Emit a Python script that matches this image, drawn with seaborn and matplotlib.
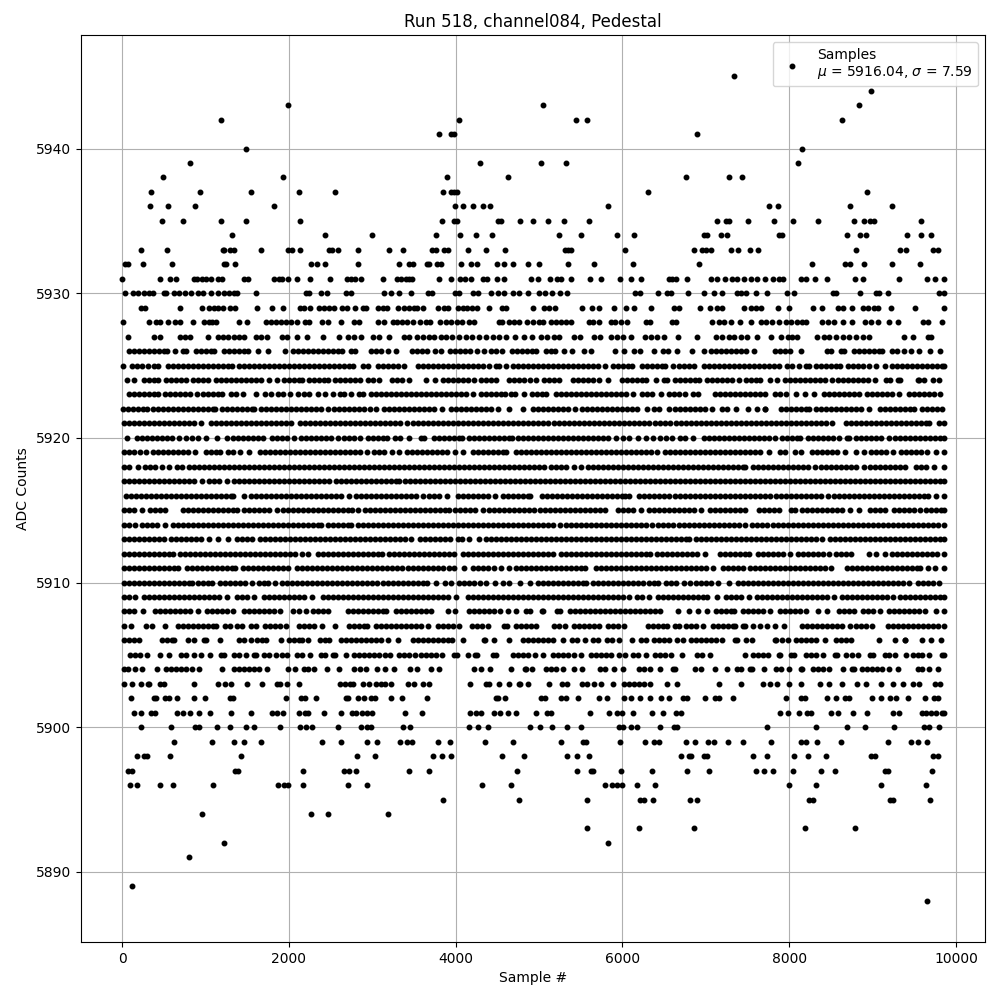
import pandas as pd
import seaborn as sns
import matplotlib
matplotlib.use("Agg")
import matplotlib.pyplot as plt

# Sample numbers per ADC level.
# The dense rows can't be resolved dot by dot, so those positions are estimates
# that follow the visible runs and gaps (far fewer points than the real samples).
s5945 = [7340]
s5944 = [8984]
s5943 = [1988, 5048, 8840]
s5942 = [1184, 4040, 5448, 5576, 8636]
s5941 = [3800, 3940, 3980, 6896]
s5940 = [1484, 8156]
s5939 = [812, 4292, 5028, 5324, 8108]
s5938 = [488, 1928, 3896, 4628, 6764, 7280, 7436]
s5937 = [344, 932, 1544, 2120, 2552, 3848, 3940, 3980, 4012, 6308, 8936]
s5936 = [332, 548, 872, 1820, 3992, 4092, 4212, 4328, 4412, 5828, 7760, 7868, 8732, 9236]
s5935 = [476, 728, 1184, 1484, 2132, 3836, 3980, 4020, 4508, 4540, 4772, 4928, 5104, 5300, 5600, 7136, 7240, 7280,
         7508, 7820, 8048, 8348, 8780, 8900, 8968, 9020, 9584]
s5934 = [1316, 2432, 2996, 3764, 4052, 4244, 4436, 5240, 5504, 5936, 6140, 6980, 7012, 7184, 7252, 7880, 7920, 8696,
         8852, 8924, 9416, 9584, 9704]
s5933 = [224, 536, 1212, 1228, 1292, 1340, 1664, 1992, 2040, 2132, 2480, 2520, 2588, 2828, 3204, 3368, 3720, 3760,
         3860, 3912, 4148, 4364, 4592, 5308, 5348, 5388, 6032, 6860, 6960, 7000, 7068, 7300, 7388, 7532, 7628, 8804,
         9332, 9400, 9720, 9788]
s5932 = [40, 68, 248, 596, 1228, 1252, 1352, 2260, 2340, 2428, 2828, 3320, 3440, 3484, 3652, 3680, 3780, 3820, 4060,
         4188, 4252, 4500, 4580, 4688, 4872, 5000, 5348, 5660, 6128, 6920, 8276, 8668, 8732, 8900, 9236, 9572]
s5931 = [0, 452, 572, 644, 860, 900, 960, 1012, 1068, 1148, 1200, 1460, 1508, 1820, 1880, 1920, 1988, 2096, 2252, 2488,
         2692, 2740, 2788, 2864, 3128, 3300, 3340, 3400, 3440, 3472, 3800, 3944, 4052, 4108, 4188, 4332, 4380, 4500,
         4580, 4908, 4988, 5130, 5212, 5260, 5384, 5612, 5744, 5972, 6104, 6224, 6560, 6600, 6640, 6776, 7060, 7140,
         7228, 7320, 7380, 7460, 7540, 7620, 7708, 7808, 7880, 7928, 8140, 8200, 8312, 8452, 8792, 8888, 9320, 9656,
         9752, 9856]
s5930 = [32, 132, 188, 260, 320, 372, 500, 532, 628, 680, 756, 824, 908, 968, 1068, 1148, 1228, 1280, 1340, 1380, 1604,
         2200, 2240, 2388, 2452, 2680, 2740, 3140, 3228, 3320, 3468, 3672, 3720, 3988, 4040, 4212, 4268, 4428, 4508,
         4580, 4692, 4756, 4872, 5000, 5070, 5156, 5252, 5332, 6152, 6212, 6428, 6540, 6588, 6788, 6980, 7100, 7200,
         7380, 7420, 7480, 7604, 7740, 7980, 8060, 8520, 8560, 8852, 9040, 9080, 9180, 9800, 9856]
s5929 = [228, 280, 692, 960, 1040, 1100, 1148, 1212, 1300, 1360, 1616, 1796, 1932, 2128, 2180, 2252, 2360, 2420, 2480,
         2540, 2640, 2692, 2796, 2888, 2928, 3068, 3128, 3180, 3312, 3380, 3440, 3500, 3540, 3604, 3788, 3860, 3908,
         4028, 4092, 4140, 4200, 4260, 4400, 4552, 4600, 4924, 5060, 5120, 5188, 5516, 5640, 5720, 5900, 6044, 6140,
         6344, 6620, 6680, 6932, 7052, 7132, 7200, 7460, 7540, 7600, 7660, 7868, 8000, 8284, 8392, 8580, 8640, 8756,
         8880, 8940, 9020, 9068, 9224, 9512, 9856]
s5928 = [8, 320, 412, 460, 552, 640, 700, 852, 980, 1040, 1080, 1132, 1404, 1496, 1720, 1780, 1840, 1900, 1960, 2020,
         2100, 2188, 2244, 2400, 2468, 2624, 2780, 2844, 3072, 3140, 3252, 3300, 3360, 3420, 3484, 3572, 3640, 3692,
         3812, 3880, 3940, 4020, 4080, 4160, 4220, 4520, 4560, 4640, 4700, 4760, 4860, 4932, 5000, 5045, 5140, 5200,
         5260, 5320, 5388, 5600, 5652, 5724, 5860, 5912, 5980, 6052, 6280, 6332, 6592, 6640, 7080, 7160, 7220, 7300,
         7408, 7544, 7660, 7720, 7800, 7880, 7960, 8028, 8100, 8160, 8208, 8388, 8460, 8540, 8640, 8756, 8908, 8980,
         9068, 9200, 9308, 9600, 9660, 9836]
s5927 = [68, 380, 452, 700, 760, 812, 1032, 1148, 1212, 1268, 1340, 1400, 1468, 1600, 1660, 1740, 1920, 1980, 2100,
         2220, 2412, 2596, 2708, 2780, 2860, 3008, 3080, 3200, 3380, 3440, 3540, 3612, 3680, 3740, 3820, 3880, 3960,
         4040, 4120, 4200, 4280, 4360, 4452, 4520, 4600, 4712, 4820, 4920, 5020, 5100, 5180, 5240, 5420, 5492, 5660,
         5732, 5860, 5940, 6012, 6100, 6272, 6340, 6420, 6500, 6664, 6896, 7120, 7200, 7280, 7340, 7420, 7500, 7620,
         7780, 7908, 7988, 8040, 8100, 8332, 8420, 8480, 8560, 8640, 8720, 8800, 8880, 8960, 9372, 9488, 9660, 9700]
s5926 = [80, 140, 200, 260, 320, 380, 440, 500, 535, 640, 728, 765, 885, 945, 1005, 1065, 1105, 1225, 1285, 1345, 1405,
         1465, 1515, 1632, 1748, 1952, 2045, 2105, 2165, 2225, 2285, 2345, 2405, 2465, 2525, 2585, 2635, 2745, 2788,
         2985, 3045, 3105, 3190, 3280, 3473, 3533, 3593, 3653, 3755, 3820, 3933, 3993, 4053, 4113, 4173, 4255, 4340,
         4425, 4485, 4555, 4677, 4737, 4797, 4857, 4917, 4965, 5085, 5145, 5195, 5305, 5395, 5545, 5627, 5912, 6020,
         6145, 6215, 6376, 6493, 6553, 6655, 6833, 6975, 7065, 7125, 7185, 7245, 7305, 7365, 7425, 7485, 7575, 7825,
         7885, 7945, 8015, 8140, 8453, 8507, 8625, 8655, 8773, 8833, 8893, 8953, 9013, 9073, 9115, 9237, 9295, 9380,
         9460, 9560, 9685, 9812]
s5925 = [8, 117, 177, 237, 315, 385, 435, 545, 605, 665, 725, 785, 845, 905, 965, 1025, 1085, 1145, 1205, 1265, 1323,
         1397, 1457, 1517, 1577, 1637, 1697, 1757, 1817, 1877, 1937, 1997, 2057, 2117, 2177, 2237, 2297, 2357, 2417,
         2477, 2537, 2597, 2657, 2717, 2775, 2885, 2955, 3065, 3125, 3185, 3245, 3305, 3375, 3545, 3605, 3665, 3725,
         3785, 3845, 3905, 3965, 4025, 4085, 4145, 4205, 4265, 4325, 4395, 4485, 4515, 4604, 4693, 4753, 4813, 4873,
         4933, 4993, 5053, 5113, 5173, 5233, 5293, 5353, 5413, 5473, 5533, 5593, 5653, 5713, 5795, 5885, 5945, 6005,
         6065, 6115, 6233, 6293, 6353, 6413, 6473, 6515, 6613, 6673, 6733, 6793, 6863, 6977, 7037, 7097, 7157, 7217,
         7277, 7337, 7397, 7457, 7517, 7577, 7637, 7697, 7757, 7817, 7875, 7977, 8037, 8123, 8205, 8243, 8325, 8385,
         8445, 8505, 8565, 8615, 8705, 8765, 8825, 8885, 8955, 9045, 9155, 9237, 9297, 9357, 9417, 9477, 9537, 9597,
         9657, 9717, 9777, 9837, 9856]
s5924 = [53, 147, 265, 325, 385, 435, 525, 585, 645, 705, 763, 853, 913, 973, 1035, 1125, 1185, 1245, 1305, 1365, 1425,
         1485, 1545, 1605, 1667, 1765, 1855, 1945, 2005, 2065, 2125, 2155, 2237, 2297, 2357, 2417, 2467, 2553, 2613,
         2673, 2733, 2793, 2855, 2945, 3005, 3083, 3237, 3297, 3357, 3443, 3645, 3755, 3845, 3905, 3965, 4025, 4085,
         4145, 4215, 4305, 4365, 4425, 4483, 4645, 4705, 4765, 4825, 4895, 4960, 5065, 5125, 5185, 5235, 5413, 5473,
         5533, 5593, 5653, 5715, 5832, 5993, 6053, 6113, 6173, 6233, 6283, 6400, 6505, 6535, 6625, 6685, 6745, 6805,
         6865, 6923, 7013, 7073, 7133, 7193, 7253, 7313, 7395, 7477, 7537, 7597, 7655, 7773, 7855, 7945, 8005, 8065,
         8125, 8185, 8245, 8305, 8365, 8425, 8515, 8585, 8645, 8705, 8765, 8825, 8885, 8945, 9035, 9157, 9215, 9305,
         9335, 9545, 9555, 9620, 9725, 9795]
s5923 = [77, 137, 197, 257, 317, 377, 427, 517, 577, 637, 697, 757, 817, 895, 965, 1025, 1085, 1145, 1203, 1305, 1365,
         1455, 1605, 1715, 1788, 1873, 1933, 2015, 2108, 2185, 2245, 2355, 2437, 2535, 2613, 2667, 2748, 2845, 2895,
         2985, 3045, 3105, 3165, 3225, 3285, 3345, 3405, 3465, 3525, 3585, 3645, 3705, 3765, 3825, 3885, 3945, 4005,
         4065, 4125, 4203, 4305, 4365, 4425, 4485, 4545, 4587, 4665, 4715, 4820, 4917, 4977, 5037, 5083, 5205, 5265,
         5325, 5385, 5445, 5505, 5565, 5625, 5685, 5745, 5805, 5865, 5925, 5985, 6045, 6123, 6237, 6297, 6357, 6467,
         6557, 6617, 6677, 6747, 6845, 6907, 7113, 7173, 7233, 7293, 7353, 7413, 7473, 7533, 7593, 7653, 7715, 7825,
         7885, 7963, 8080, 8192, 8300, 8413, 8473, 8533, 8593, 8653, 8713, 8773, 8835, 8933, 8993, 9053, 9113, 9173,
         9233, 9315, 9433, 9493, 9553, 9613, 9673, 9733, 9815]
s5922 = [12, 72, 132, 192, 252, 295, 365, 425, 485, 545, 605, 665, 725, 785, 845, 905, 965, 1025, 1085, 1115, 1197,
         1257, 1317, 1377, 1437, 1497, 1557, 1587, 1665, 1725, 1785, 1845, 1905, 1965, 2025, 2085, 2145, 2205, 2265,
         2325, 2385, 2467, 2537, 2597, 2657, 2717, 2777, 2837, 2897, 2975, 3044, 3145, 3205, 3265, 3325, 3385, 3445,
         3505, 3565, 3625, 3685, 3745, 3835, 3945, 4005, 4065, 4125, 4185, 4245, 4305, 4365, 4427, 4508, 4645, 4803,
         4925, 4985, 5045, 5105, 5165, 5225, 5285, 5345, 5427, 5517, 5577, 5637, 5697, 5757, 5817, 5877, 5937, 5997,
         6057, 6117, 6175, 6297, 6375, 6440, 6565, 6625, 6685, 6745, 6805, 6865, 6925, 6985, 7075, 7197, 7257, 7367,
         7505, 7615, 7705, 7715, 7905, 7965, 8025, 8085, 8145, 8205, 8235, 8325, 8385, 8445, 8505, 8565, 8625, 8685,
         8745, 8805, 8865, 8955, 9085, 9145, 9205, 9265, 9325, 9385, 9445, 9495, 9597, 9657, 9717, 9777, 9835]
s5921 = [25, 85, 145, 205, 265, 325, 385, 445, 505, 565, 625, 685, 745, 805, 865, 947, 1065, 1125, 1185, 1245, 1305,
         1365, 1425, 1485, 1545, 1605, 1665, 1725, 1785, 1845, 1905, 1965, 2027, 2133, 2193, 2253, 2313, 2373, 2433,
         2493, 2553, 2613, 2673, 2733, 2793, 2853, 2913, 2973, 3033, 3093, 3153, 3213, 3273, 3333, 3415, 3493, 3553,
         3613, 3673, 3733, 3793, 3853, 3913, 3973, 4033, 4093, 4153, 4213, 4273, 4333, 4393, 4453, 4513, 4573, 4633,
         4693, 4753, 4813, 4873, 4933, 4993, 5053, 5107, 5185, 5245, 5305, 5365, 5425, 5485, 5545, 5605, 5665, 5725,
         5785, 5845, 5905, 5965, 6025, 6085, 6145, 6205, 6265, 6315, 6397, 6457, 6517, 6577, 6637, 6697, 6757, 6817,
         6877, 6937, 6997, 7057, 7117, 7177, 7237, 7297, 7357, 7417, 7477, 7537, 7597, 7657, 7717, 7777, 7837, 7897,
         7957, 8017, 8077, 8137, 8197, 8257, 8317, 8377, 8437, 8515, 8677, 8737, 8797, 8857, 8917, 8977, 9037, 9097,
         9157, 9217, 9277, 9337, 9397, 9457, 9517, 9577, 9637, 9675, 9797, 9856]
s5920 = [60, 173, 233, 293, 353, 413, 473, 533, 603, 680, 768, 837, 907, 1005, 1135, 1260, 1325, 1385, 1445, 1505, 1565,
         1625, 1695, 1797, 1857, 1917, 1977, 2063, 2145, 2205, 2265, 2325, 2385, 2445, 2505, 2595, 2665, 2725, 2785,
         2855, 2945, 3005, 3065, 3125, 3175, 3277, 3335, 3440, 3585, 3615, 3745, 3805, 3865, 3925, 3985, 4045, 4075,
         4157, 4217, 4277, 4337, 4397, 4457, 4517, 4577, 4637, 4675, 4745, 4805, 4865, 4925, 4985, 5045, 5105, 5163,
         5233, 5293, 5353, 5413, 5473, 5533, 5593, 5653, 5713, 5773, 5833, 5923, 6005, 6083, 6185, 6283, 6365, 6455,
         6520, 6600, 6685, 6745, 6843, 6977, 7037, 7097, 7157, 7217, 7277, 7337, 7397, 7457, 7517, 7577, 7637, 7697,
         7757, 7835, 7917, 7977, 8037, 8097, 8135, 8225, 8285, 8345, 8405, 8465, 8525, 8595, 8693, 8715, 8805, 8865,
         8925, 8985, 9045, 9105, 9195, 9273, 9333, 9393, 9453, 9513, 9573, 9633, 9693, 9753, 9813, 9856]
s5919 = [25, 85, 145, 215, 288, 365, 425, 485, 545, 605, 665, 725, 785, 875, 1005, 1065, 1125, 1175, 1265, 1325, 1415,
         1528, 1657, 1717, 1777, 1837, 1897, 1957, 2017, 2077, 2137, 2197, 2257, 2317, 2377, 2437, 2497, 2557, 2617,
         2677, 2737, 2797, 2857, 2935, 3025, 3085, 3145, 3235, 3320, 3413, 3473, 3533, 3593, 3653, 3713, 3773, 3833,
         3893, 3987, 4092, 4205, 4265, 4325, 4385, 4445, 4505, 4565, 4603, 4725, 4785, 4845, 4905, 4965, 5025, 5085,
         5145, 5205, 5265, 5325, 5385, 5445, 5505, 5565, 5625, 5685, 5745, 5805, 5865, 5925, 5985, 6045, 6105, 6165,
         6225, 6285, 6345, 6415, 6513, 6573, 6633, 6693, 6753, 6813, 6873, 6933, 6993, 7053, 7113, 7173, 7233, 7293,
         7353, 7413, 7473, 7533, 7593, 7653, 7755, 7893, 7953, 8075, 8140, 8273, 8333, 8393, 8453, 8513, 8573, 8675,
         8805, 8895, 8985, 9045, 9105, 9165, 9243, 9345, 9405, 9465, 9525, 9585, 9655, 9765, 9856]
s5918 = [25, 85, 187, 277, 337, 397, 483, 560, 653, 715, 797, 857, 917, 977, 1037, 1097, 1157, 1217, 1277, 1337, 1397,
         1457, 1517, 1577, 1637, 1697, 1757, 1817, 1877, 1937, 1997, 2057, 2117, 2177, 2237, 2297, 2357, 2417, 2477,
         2537, 2597, 2657, 2717, 2777, 2837, 2897, 2957, 3017, 3077, 3137, 3197, 3257, 3317, 3377, 3437, 3497, 3557,
         3617, 3677, 3737, 3797, 3857, 3917, 3977, 4037, 4097, 4157, 4217, 4277, 4337, 4397, 4457, 4517, 4577, 4637,
         4697, 4757, 4817, 4877, 4937, 4997, 5065, 5145, 5205, 5265, 5325, 5415, 5508, 5585, 5645, 5705, 5765, 5825,
         5885, 5945, 6005, 6065, 6125, 6185, 6245, 6305, 6365, 6425, 6485, 6545, 6605, 6665, 6725, 6785, 6845, 6905,
         6965, 7025, 7085, 7145, 7205, 7265, 7325, 7385, 7445, 7475, 7565, 7625, 7685, 7745, 7805, 7865, 7925, 7985,
         8045, 8105, 8165, 8225, 8315, 8385, 8445, 8505, 8565, 8625, 8685, 8745, 8805, 8895, 8973, 9033, 9093, 9153,
         9213, 9273, 9333, 9387, 9525, 9585, 9645, 9735, 9856]
s5917 = [25, 85, 145, 205, 265, 325, 385, 445, 505, 565, 625, 685, 745, 805, 865, 963, 1037, 1097, 1157, 1255, 1345,
         1405, 1465, 1525, 1585, 1645, 1705, 1765, 1825, 1885, 1945, 2005, 2065, 2125, 2185, 2245, 2305, 2365, 2425,
         2483, 2565, 2625, 2685, 2745, 2805, 2865, 2925, 2985, 3045, 3105, 3165, 3225, 3285, 3323, 3393, 3453, 3513,
         3573, 3633, 3693, 3753, 3813, 3873, 3933, 3993, 4053, 4113, 4173, 4233, 4293, 4353, 4413, 4473, 4533, 4593,
         4653, 4713, 4773, 4833, 4893, 4953, 5013, 5073, 5133, 5193, 5253, 5307, 5373, 5433, 5493, 5553, 5613, 5673,
         5733, 5793, 5853, 5913, 5973, 6033, 6093, 6153, 6213, 6273, 6333, 6393, 6453, 6513, 6573, 6633, 6693, 6753,
         6813, 6873, 6933, 6993, 7053, 7113, 7173, 7233, 7293, 7353, 7413, 7473, 7533, 7593, 7653, 7713, 7773, 7833,
         7893, 7953, 8013, 8073, 8133, 8193, 8253, 8313, 8373, 8433, 8493, 8553, 8613, 8673, 8733, 8793, 8853, 8913,
         8973, 9033, 9093, 9153, 9213, 9273, 9333, 9393, 9453, 9513, 9573, 9633, 9693, 9753, 9813, 9856]
s5916 = [45, 105, 165, 225, 285, 345, 405, 465, 525, 585, 645, 705, 765, 825, 885, 945, 1005, 1065, 1125, 1185, 1245,
         1305, 1335, 1468, 1545, 1605, 1665, 1725, 1785, 1845, 1905, 1965, 2025, 2085, 2145, 2205, 2265, 2325, 2385,
         2445, 2505, 2565, 2625, 2723, 2805, 2865, 2925, 2985, 3045, 3105, 3165, 3225, 3285, 3345, 3405, 3465, 3525,
         3603, 3685, 3745, 3805, 3895, 4033, 4093, 4153, 4213, 4273, 4333, 4393, 4475, 4565, 4625, 4685, 4745, 4805,
         4865, 4895, 5037, 5097, 5157, 5217, 5277, 5337, 5397, 5457, 5517, 5577, 5637, 5697, 5757, 5817, 5877, 5937,
         5997, 6027, 6080, 6205, 6265, 6325, 6385, 6445, 6505, 6565, 6625, 6685, 6745, 6805, 6865, 6925, 6985, 7045,
         7105, 7165, 7225, 7285, 7345, 7405, 7465, 7525, 7585, 7645, 7705, 7775, 7845, 7905, 7965, 8025, 8085, 8145,
         8205, 8265, 8325, 8385, 8467, 8533, 8593, 8653, 8713, 8773, 8833, 8893, 8953, 9013, 9073, 9133, 9193, 9253,
         9313, 9373, 9433, 9493, 9553, 9613, 9667, 9765, 9856]
s5915 = [25, 85, 145, 243, 333, 393, 453, 515, 733, 793, 853, 913, 973, 1033, 1093, 1153, 1213, 1273, 1333, 1375, 1457,
         1517, 1577, 1637, 1697, 1757, 1855, 1933, 1993, 2053, 2113, 2173, 2233, 2293, 2353, 2413, 2473, 2533, 2593,
         2653, 2713, 2763, 2828, 2913, 2973, 3033, 3093, 3153, 3213, 3273, 3333, 3393, 3453, 3513, 3573, 3633, 3693,
         3753, 3813, 3873, 3915, 3993, 4053, 4113, 4173, 4233, 4323, 4405, 4465, 4525, 4585, 4645, 4705, 4765, 4825,
         4885, 4935, 5013, 5073, 5133, 5193, 5253, 5313, 5373, 5433, 5493, 5553, 5613, 5673, 5733, 5795, 5945, 6005,
         6065, 6125, 6227, 6317, 6377, 6437, 6497, 6557, 6617, 6677, 6737, 6797, 6857, 6947, 7053, 7113, 7173, 7233,
         7293, 7353, 7413, 7475, 7633, 7693, 7753, 7813, 7883, 8025, 8067, 8157, 8217, 8277, 8337, 8397, 8457, 8517,
         8577, 8637, 8735, 8832, 8965, 9025, 9085, 9155, 9253, 9313, 9373, 9433, 9493, 9575, 9645, 9705, 9765, 9825,
         9856]
s5914 = [25, 85, 155, 237, 297, 357, 417, 515, 613, 673, 733, 793, 853, 913, 973, 1033, 1093, 1153, 1213, 1273, 1333,
         1393, 1453, 1513, 1573, 1633, 1693, 1753, 1813, 1873, 1933, 1993, 2053, 2113, 2173, 2233, 2293, 2353, 2387,
         2465, 2525, 2585, 2645, 2705, 2747, 2825, 2885, 2945, 3005, 3065, 3125, 3185, 3245, 3305, 3365, 3425, 3485,
         3545, 3605, 3665, 3725, 3785, 3845, 3905, 3965, 4025, 4085, 4145, 4205, 4265, 4325, 4385, 4445, 4505, 4565,
         4625, 4685, 4745, 4805, 4865, 4925, 4985, 5045, 5105, 5165, 5255, 5325, 5385, 5445, 5505, 5565, 5625, 5685,
         5745, 5805, 5865, 5925, 5985, 6045, 6105, 6165, 6225, 6285, 6355, 6433, 6493, 6553, 6613, 6673, 6733, 6793,
         6853, 6913, 6973, 7033, 7093, 7153, 7213, 7273, 7333, 7393, 7475, 7557, 7617, 7677, 7735, 7805, 7865, 7925,
         7985, 8045, 8105, 8165, 8225, 8285, 8345, 8405, 8465, 8525, 8585, 8645, 8705, 8765, 8825, 8885, 8945, 9005,
         9065, 9125, 9185, 9245, 9305, 9365, 9425, 9485, 9545, 9605, 9665, 9725, 9785, 9856]
s5913 = [25, 85, 145, 205, 265, 325, 385, 445, 507, 585, 645, 705, 765, 825, 885, 945, 1043, 1148, 1268, 1377, 1437,
         1497, 1563, 1653, 1713, 1773, 1833, 1893, 1953, 2013, 2073, 2133, 2193, 2253, 2313, 2373, 2433, 2493, 2553,
         2613, 2673, 2733, 2793, 2853, 2913, 2973, 3033, 3093, 3153, 3213, 3273, 3333, 3393, 3467, 3573, 3633, 3693,
         3753, 3813, 3873, 3935, 4025, 4075, 4157, 4275, 4365, 4425, 4485, 4545, 4605, 4665, 4725, 4785, 4845, 4905,
         4965, 5025, 5085, 5145, 5205, 5265, 5325, 5385, 5445, 5505, 5565, 5625, 5685, 5745, 5805, 5865, 5925, 5985,
         6045, 6105, 6165, 6225, 6285, 6345, 6405, 6465, 6525, 6585, 6645, 6705, 6765, 6803, 6877, 6937, 6997, 7057,
         7117, 7177, 7237, 7297, 7357, 7417, 7477, 7537, 7597, 7657, 7717, 7777, 7837, 7897, 7957, 8017, 8077, 8137,
         8197, 8257, 8317, 8395, 8493, 8553, 8613, 8673, 8733, 8793, 8853, 8913, 8973, 9033, 9093, 9153, 9213, 9273,
         9333, 9393, 9453, 9513, 9573, 9633, 9693, 9753, 9813, 9856]
s5912 = [25, 85, 145, 205, 265, 325, 385, 445, 505, 565, 615, 693, 753, 813, 873, 933, 993, 1053, 1113, 1173, 1233,
         1293, 1353, 1413, 1473, 1533, 1593, 1653, 1713, 1773, 1833, 1893, 1953, 2013, 2073, 2163, 2228, 2349, 2409,
         2469, 2529, 2589, 2649, 2709, 2769, 2829, 2889, 2949, 3009, 3069, 3123, 3205, 3265, 3325, 3385, 3445, 3505,
         3565, 3625, 3685, 3745, 3805, 3865, 3925, 3975, 4093, 4153, 4213, 4273, 4333, 4393, 4453, 4513, 4573, 4633,
         4693, 4753, 4813, 4873, 4933, 4993, 5053, 5113, 5163, 5265, 5325, 5385, 5445, 5505, 5565, 5625, 5685, 5745,
         5805, 5865, 5925, 5985, 6045, 6105, 6165, 6225, 6285, 6335, 6413, 6473, 6533, 6593, 6653, 6713, 6773, 6833,
         6893, 6995, 7173, 7233, 7293, 7353, 7413, 7473, 7523, 7629, 7689, 7749, 7809, 7869, 7929, 8015, 8105, 8165,
         8225, 8285, 8345, 8405, 8475, 8565, 8625, 8685, 8743, 8960, 9045, 9147, 9237, 9297, 9357, 9417, 9477, 9537,
         9597, 9657, 9717, 9777, 9856]
s5911 = [25, 85, 145, 205, 265, 325, 385, 445, 505, 565, 625, 667, 777, 837, 897, 957, 1017, 1077, 1137, 1197, 1257,
         1317, 1355, 1453, 1513, 1573, 1633, 1693, 1753, 1813, 1873, 1933, 1987, 2093, 2153, 2213, 2273, 2333, 2393,
         2453, 2513, 2573, 2633, 2693, 2753, 2813, 2873, 2933, 2993, 3053, 3113, 3173, 3233, 3293, 3355, 3425, 3485,
         3545, 3605, 3665, 3725, 3785, 3845, 3915, 3980, 4100, 4205, 4265, 4325, 4385, 4455, 4545, 4635, 4725, 4785,
         4845, 4905, 4965, 5025, 5085, 5145, 5205, 5265, 5325, 5385, 5445, 5505, 5555, 5685, 5745, 5805, 5865, 5925,
         5985, 6045, 6105, 6165, 6225, 6285, 6345, 6405, 6465, 6525, 6585, 6645, 6705, 6765, 6825, 6885, 6945, 7005,
         7083, 7205, 7265, 7325, 7385, 7443, 7525, 7585, 7645, 7705, 7765, 7825, 7885, 7945, 8005, 8065, 8125, 8185,
         8245, 8305, 8365, 8425, 8507, 8693, 8753, 8813, 8873, 8933, 8993, 9053, 9113, 9173, 9233, 9293, 9353, 9413,
         9473, 9533, 9575, 9660, 9745, 9856]
s5910 = [25, 85, 145, 205, 265, 325, 385, 445, 505, 565, 625, 685, 745, 805, 835, 905, 965, 1025, 1083, 1173, 1233,
         1293, 1353, 1413, 1473, 1555, 1637, 1697, 1747, 1828, 1917, 1977, 2037, 2097, 2157, 2217, 2277, 2337, 2397,
         2457, 2517, 2577, 2637, 2697, 2757, 2817, 2877, 2937, 2997, 3055, 3133, 3193, 3253, 3313, 3373, 3433, 3493,
         3553, 3613, 3655, 3765, 3868, 3940, 4045, 4105, 4165, 4225, 4295, 4365, 4475, 4565, 4643, 4773, 4895, 4985,
         5045, 5105, 5165, 5225, 5285, 5345, 5405, 5465, 5525, 5563, 5645, 5705, 5765, 5825, 5885, 5945, 6005, 6065,
         6125, 6185, 6245, 6315, 6385, 6427, 6525, 6585, 6645, 6735, 6808, 6885, 6945, 7005, 7065, 7147, 7280, 7385,
         7445, 7505, 7565, 7625, 7685, 7745, 7805, 7865, 7925, 7985, 8045, 8105, 8165, 8225, 8285, 8345, 8405, 8465,
         8525, 8585, 8645, 8705, 8765, 8825, 8885, 8945, 9005, 9065, 9125, 9185, 9245, 9305, 9365, 9443, 9545, 9605,
         9665, 9725, 9795]
s5909 = [25, 85, 155, 265, 325, 385, 445, 505, 565, 625, 685, 745, 805, 865, 925, 985, 1045, 1105, 1165, 1255, 1377,
         1437, 1497, 1587, 1705, 1765, 1825, 1885, 1945, 2005, 2065, 2125, 2185, 2275, 2413, 2473, 2533, 2593, 2653,
         2713, 2773, 2833, 2893, 2953, 3013, 3073, 3133, 3193, 3253, 3313, 3373, 3433, 3493, 3553, 3613, 3673, 3733,
         3793, 3853, 3913, 4003, 4153, 4213, 4273, 4333, 4393, 4453, 4513, 4573, 4633, 4693, 4753, 4813, 4873, 4933,
         4993, 5053, 5113, 5173, 5233, 5293, 5353, 5413, 5473, 5533, 5593, 5653, 5713, 5773, 5833, 5893, 5953, 6013,
         6075, 6177, 6237, 6323, 6425, 6485, 6545, 6605, 6665, 6725, 6785, 6845, 6905, 6965, 7015, 7140, 7245, 7305,
         7365, 7425, 7515, 7613, 7673, 7733, 7793, 7853, 7913, 7973, 8033, 8093, 8153, 8213, 8273, 8333, 8393, 8453,
         8535, 8637, 8697, 8757, 8817, 8877, 8937, 8997, 9057, 9117, 9177, 9243, 9333, 9393, 9453, 9513, 9573, 9633,
         9693, 9753, 9813, 9856]
s5908 = [25, 85, 145, 247, 393, 453, 513, 573, 633, 693, 753, 813, 915, 1013, 1073, 1133, 1193, 1253, 1335, 1461, 1521,
         1581, 1641, 1701, 1761, 1821, 1895, 2053, 2123, 2200, 2293, 2353, 2413, 2475, 2705, 2765, 2825, 2885, 2945,
         3005, 3065, 3125, 3163, 3285, 3345, 3405, 3465, 3525, 3585, 3645, 3707, 3905, 3987, 4165, 4225, 4285, 4345,
         4405, 4465, 4535, 4625, 4723, 4845, 4895, 5040, 5052, 5213, 5255, 5373, 5433, 5493, 5553, 5613, 5673, 5733,
         5793, 5853, 5913, 5973, 6033, 6093, 6153, 6213, 6273, 6333, 6393, 6455, 6665, 6795, 6908, 7012, 7117, 7177,
         7237, 7297, 7343, 7445, 7505, 7565, 7625, 7685, 7775, 7885, 7945, 8005, 8065, 8135, 8204, 8345, 8455, 8597,
         8657, 8717, 8775, 8885, 8945, 9005, 9095, 9197, 9257, 9317, 9377, 9437, 9497, 9557, 9635, 9757, 9855]
s5907 = [25, 107, 285, 355, 520, 673, 733, 793, 853, 913, 973, 1033, 1093, 1123, 1233, 1293, 1375, 1436, 1545, 1603,
         1717, 1777, 1837, 1897, 1963, 2125, 2185, 2245, 2305, 2403, 2552, 2725, 2785, 2845, 2905, 2935, 3045, 3105,
         3165, 3225, 3285, 3345, 3405, 3465, 3525, 3585, 3667, 3785, 3845, 3905, 3965, 4035, 4197, 4257, 4317, 4387,
         4585, 4615, 4725, 4785, 4845, 4905, 4963, 5177, 5237, 5315, 5425, 5485, 5545, 5605, 5665, 5715, 5825, 5885,
         5945, 6015, 6305, 6365, 6425, 6485, 6535, 6625, 6675, 6765, 6825, 6885, 6963, 7085, 7145, 7205, 7265, 7325,
         7355, 7445, 7475, 7572, 7653, 7735, 7825, 7935, 8157, 8217, 8277, 8337, 8397, 8457, 8517, 8577, 8637, 8735,
         8805, 8865, 8925, 8995, 9185, 9245, 9305, 9365, 9425, 9485, 9545, 9605, 9665, 9725, 9785, 9856]
s5906 = [25, 85, 145, 203, 477, 537, 597, 627, 785, 863, 985, 1003, 1172, 1400, 1460, 1548, 1620, 1680, 1728, 1904,
         2005, 2065, 2125, 2155, 2228, 2373, 2433, 2483, 2625, 2685, 2745, 2805, 2865, 2925, 2985, 3045, 3105, 3195,
         3308, 3485, 3545, 3605, 3665, 3725, 3785, 3845, 3905, 3955, 4088, 4345, 4355, 4460, 4640, 4805, 4865, 4925,
         4985, 5045, 5105, 5167, 5292, 5397, 5457, 5547, 5645, 5707, 5817, 5877, 5963, 6116, 6225, 6283, 6385, 6445,
         6505, 6565, 6655, 6732, 6825, 6885, 6945, 7005, 7065, 7125, 7195, 7345, 7375, 7477, 7555, 7825, 7843, 7920,
         7984, 8085, 8145, 8205, 8265, 8325, 8427, 8565, 8625, 8685, 8747, 9080, 9272, 9385, 9395, 9592, 9704, 9820]
s5905 = [93, 153, 213, 303, 453, 563, 705, 765, 863, 952, 1052, 1185, 1227, 1345, 1405, 1483, 1585, 1603, 1705, 1765,
         1843, 1920, 1980, 2097, 2157, 2255, 2385, 2435, 2525, 2555, 2684, 2785, 2845, 2905, 2965, 3025, 3085, 3155,
         3212, 3317, 3377, 3435, 3512, 3585, 3645, 3705, 3765, 3835, 3985, 4015, 4148, 4237, 4255, 4453, 4483, 4693,
         4753, 4813, 4873, 4947, 5045, 5165, 5225, 5285, 5345, 5415, 5508, 5625, 5685, 5745, 5805, 5865, 5955, 6032,
         6125, 6185, 6283, 6397, 6457, 6517, 6587, 6712, 6893, 6955, 7052, 7468, 7565, 7625, 7685, 7747, 7877, 7895,
         8025, 8055, 8197, 8257, 8317, 8403, 8545, 8575, 8677, 8748, 8820, 8965, 9003, 9145, 9195, 9268, 9400, 9485,
         9545, 9595, 9680, 9837, 9856]
s5904 = [25, 67, 152, 236, 416, 525, 585, 645, 705, 765, 835, 920, 1196, 1345, 1405, 1465, 1525, 1585, 1645, 1735,
         1988, 2072, 2185, 2227, 2300, 2460, 2600, 2780, 2852, 2920, 3056, 3152, 3260, 3452, 3532, 3705, 3804, 4220,
         4308, 4412, 4664, 4837, 4843, 4920, 5085, 5145, 5205, 5283, 5425, 5515, 5733, 5795, 5900, 6012, 6205, 6265,
         6335, 6452, 6605, 6627, 6868, 6948, 7112, 7253, 7372, 7428, 7533, 7555, 7704, 7837, 7897, 7995, 8145, 8155,
         8285, 8345, 8405, 8475, 8640, 8757, 8775, 8877, 8937, 8997, 9057, 9117, 9195, 9308, 9545, 9595, 9680, 9780]
s5903 = [25, 115, 228, 313, 323, 453, 507, 860, 1153, 1240, 1304, 1496, 1677, 1853, 1895, 1972, 2120, 2613, 2673, 2733,
         2775, 2888, 2964, 3040, 3100, 3148, 3224, 3428, 3500, 3612, 3680, 4172, 4365, 4403, 4525, 4640, 4765, 4775,
         4868, 5120, 5280, 5332, 5517, 5577, 5655, 5740, 5892, 6025, 6085, 6145, 6205, 6265, 6335, 6540, 6660, 7160,
         7424, 7692, 7768, 7856, 8000, 8148, 8372, 8480, 8636, 8816, 8924, 9104, 9248, 9364, 9480, 9560, 9752, 9812]
s5902 = [108, 380, 412, 520, 560, 656, 860, 992, 1300, 1332, 1964, 2140, 2188, 2324, 2680, 2708, 2828, 2900, 2980, 3028,
         3224, 3356, 3656, 4480, 4508, 4592, 5020, 5068, 5260, 5320, 5468, 5720, 5816, 6020, 6108, 6212, 6336, 6460,
         6560, 6732, 6772, 6988, 7108, 7160, 7328, 7964, 8140, 8188, 8452, 8560, 8668, 8720, 8988, 9104, 9212, 9280,
         9428, 9632, 9732, 9788]
s5901 = [140, 228, 348, 400, 656, 728, 812, 920, 1060, 1304, 1544, 1800, 1860, 1928, 2120, 2190, 2228, 2420, 2624, 2760,
         2800, 2880, 2940, 3000, 3388, 3596, 4172, 4240, 4308, 4460, 4532, 4628, 4720, 4964, 5100, 5140, 5616, 5840,
         5932, 6000, 6128, 6360, 6492, 6640, 6700, 7892, 7988, 8120, 8212, 8268, 8500, 8580, 8768, 8936, 9244, 9320,
         9590, 9640, 9700, 9760, 9830, 9856]
s5900 = [224, 584, 880, 920, 1136, 1292, 1484, 1580, 1892, 2132, 2204, 2276, 2588, 2864, 2940, 2988, 3368, 3452, 4160,
         4268, 4388, 4892, 5012, 5160, 5340, 5504, 5960, 6008, 6100, 6180, 6452, 6620, 6660, 7740, 8324, 8696, 8912,
         9260, 9620, 9672, 9792]
s5899 = [620, 1076, 1340, 1460, 1664, 2396, 2624, 2936, 3056, 3328, 3420, 3480, 3788, 3932, 4352, 4688, 5264, 5532,
         5564, 5972, 6272, 6380, 6444, 6760, 6868, 7032, 7100, 7268, 7448, 7784, 8140, 8200, 8336, 8624, 9188, 9464,
         9540, 9652]
s5898 = [180, 260, 300, 572, 1424, 2816, 3032, 3728, 3836, 3944, 4556, 4820, 5340, 5456, 5600, 6704, 6800, 6828, 6980,
         7012, 7568, 7736, 8060, 8228, 8444, 8980, 9032, 9720, 9780]
s5897 = [68, 120, 1360, 1388, 2168, 2660, 2720, 2804, 3440, 3680, 4740, 5456, 5620, 5652, 5984, 6356, 6776, 7040, 7604,
         7700, 7808, 8048, 8384, 8552, 9152, 9180, 9716]
s5896 = [92, 180, 452, 608, 1088, 1868, 1940, 1992, 2168, 2708, 2936, 4316, 4664, 5792, 5872, 5932, 6000, 6176, 6392,
         8000, 8324, 9104, 9644]
s5895 = [3848, 4760, 5576, 6212, 6260, 6368, 6812, 6900, 8240, 8292, 9212, 9244, 9692]
s5894 = [956, 2264, 2468, 3188]
s5893 = [5576, 6200, 6860, 8192, 8792]
s5892 = [1220, 5828]
s5891 = [800]
s5889 = [116]
s5888 = [9656]

levels = [5945, 5944, 5943, 5942, 5941, 5940, 5939, 5938, 5937, 5936, 5935, 5934, 5933, 5932, 5931, 5930, 5929, 5928,
          5927, 5926, 5925, 5924, 5923, 5922, 5921, 5920, 5919, 5918, 5917, 5916, 5915, 5914, 5913, 5912, 5911, 5910,
          5909, 5908, 5907, 5906, 5905, 5904, 5903, 5902, 5901, 5900, 5899, 5898, 5897, 5896, 5895, 5894, 5893, 5892,
          5891, 5889, 5888]
samples = [s5945, s5944, s5943, s5942, s5941, s5940, s5939, s5938, s5937, s5936, s5935, s5934, s5933, s5932, s5931,
           s5930, s5929, s5928, s5927, s5926, s5925, s5924, s5923, s5922, s5921, s5920, s5919, s5918, s5917, s5916,
           s5915, s5914, s5913, s5912, s5911, s5910, s5909, s5908, s5907, s5906, s5905, s5904, s5903, s5902, s5901,
           s5900, s5899, s5898, s5897, s5896, s5895, s5894, s5893, s5892, s5891, s5889, s5888]

df = pd.DataFrame({
    "sample": [x for row in samples for x in row],
    "adc": [lev for lev, row in zip(levels, samples) for x in row],
})

fig, ax = plt.subplots(figsize=(10, 10))
sns.scatterplot(data=df, x="sample", y="adc", ax=ax, marker=".", color="black", edgecolor="black",
                s=42, linewidth=1, zorder=3, label="Samples\n$\\mu$ = 5916.04, $\\sigma$ = 7.59")
ax.set_title("Run 518, channel084, Pedestal")
ax.set_xlabel("Sample #")
ax.set_ylabel("ADC Counts")
ax.grid(True)
ax.set_axisbelow(True)
ax.legend(loc="upper right")
fig.subplots_adjust(left=0.081, right=0.985, top=0.965, bottom=0.058)
plt.savefig("out.png", dpi=100)
plt.close()
